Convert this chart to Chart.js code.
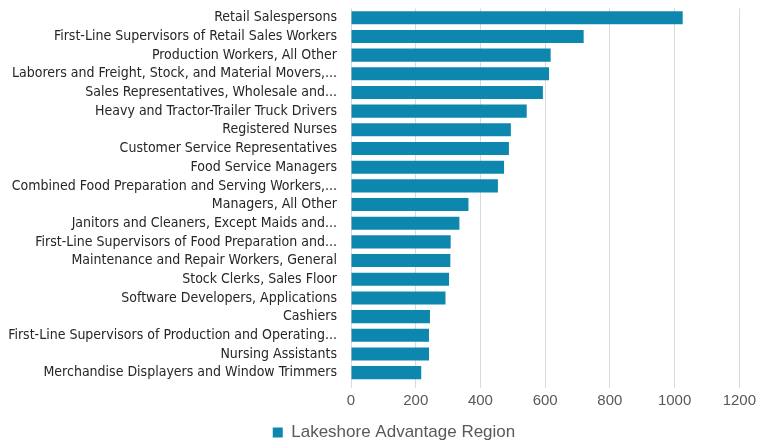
<!DOCTYPE html>
<html>
<head>
<meta charset="utf-8">
<script src="https://cdn.jsdelivr.net/npm/chart.js@4/dist/chart.umd.min.js"></script>
<style>
  body { margin: 0; background: #fff; }
  #wrap { width: 760px; height: 444px; }
</style>
</head>
<body>
<div id="wrap"><canvas id="chart" width="760" height="444"></canvas></div>
<script>
const occupations = [
    "Retail Salespersons",
    "First-Line Supervisors of Retail Sales Workers",
    "Production Workers, All Other",
    "Laborers and Freight, Stock, and Material Movers,...",
    "Sales Representatives, Wholesale and...",
    "Heavy and Tractor-Trailer Truck Drivers",
    "Registered Nurses",
    "Customer Service Representatives",
    "Food Service Managers",
    "Combined Food Preparation and Serving Workers,...",
    "Managers, All Other",
    "Janitors and Cleaners, Except Maids and...",
    "First-Line Supervisors of Food Preparation and...",
    "Maintenance and Repair Workers, General",
    "Stock Clerks, Sales Floor",
    "Software Developers, Applications",
    "Cashiers",
    "First-Line Supervisors of Production and Operating...",
    "Nursing Assistants",
    "Merchandise Displayers and Window Trimmers"
]
const jobs = [1025, 719, 617, 612, 593, 543, 494, 488, 473, 454,
              363, 335, 308, 307, 303, 292, 244, 241, 241, 217]
const seriesName = "Lakeshore Advantage Region"
const xTicks = [0, 200, 400, 600, 800, 1000, 1200]

const labelFont = "'Liberation Sans Narrow', 'DejaVu Sans Condensed', sans-serif"
const numFont = "'Liberation Sans', Arial, sans-serif"

// legend sits a little right of the page centre in the original
const nudgeLegend = {
    id: "nudgeLegend",
    afterLayout(chart) {
        const lg = chart.legend
        lg.left += 23
        lg.right += 23
        lg.top += 7
        lg.bottom += 7
    }
}

const config = {
    type: "bar",
    data: {
        labels: occupations,
        datasets: [{
            label: seriesName,
            data: jobs,
            backgroundColor: "#0d87ae",
            barPercentage: 0.7,
            categoryPercentage: 1
        }]
    },
    options: {
        indexAxis: "y",
        responsive: false,
        animation: false,
        layout: { padding: { top: 0, right: 18, bottom: 0, left: 0 } },
        plugins: {
            tooltip: { enabled: false },
            legend: {
                position: "bottom",
                labels: {
                    boxWidth: 10,
                    boxHeight: 10,
                    color: "#595959",
                    padding: 0,
                    font: { family: numFont, size: 17 }
                }
            }
        },
        scales: {
            x: {
                min: xTicks[0],
                max: xTicks[xTicks.length - 1],
                afterBuildTicks: (axis) => { axis.ticks = xTicks.map(v => ({ value: v })) },
                afterFit: (axis) => { axis.height = 35 },
                grid: { color: "#d9d9d9", drawTicks: true, tickLength: 6 },
                border: { display: false },
                ticks: {
                    color: "#595959",
                    padding: 4,
                    callback: (v) => String(v),
                    font: { family: numFont, size: 15 }
                }
            },
            y: {
                grid: { display: false, drawTicks: true, tickLength: 14 },
                border: { display: false },
                afterFit: (axis) => { axis.width = 351 },
                ticks: {
                    color: "#262626",
                    padding: 0,
                    autoSkip: false,
                    font: { family: labelFont, size: 14 }
                }
            }
        }
    },
    plugins: [nudgeLegend]
}

new Chart(document.querySelector("#chart"), config)
</script>
</body>
</html>
